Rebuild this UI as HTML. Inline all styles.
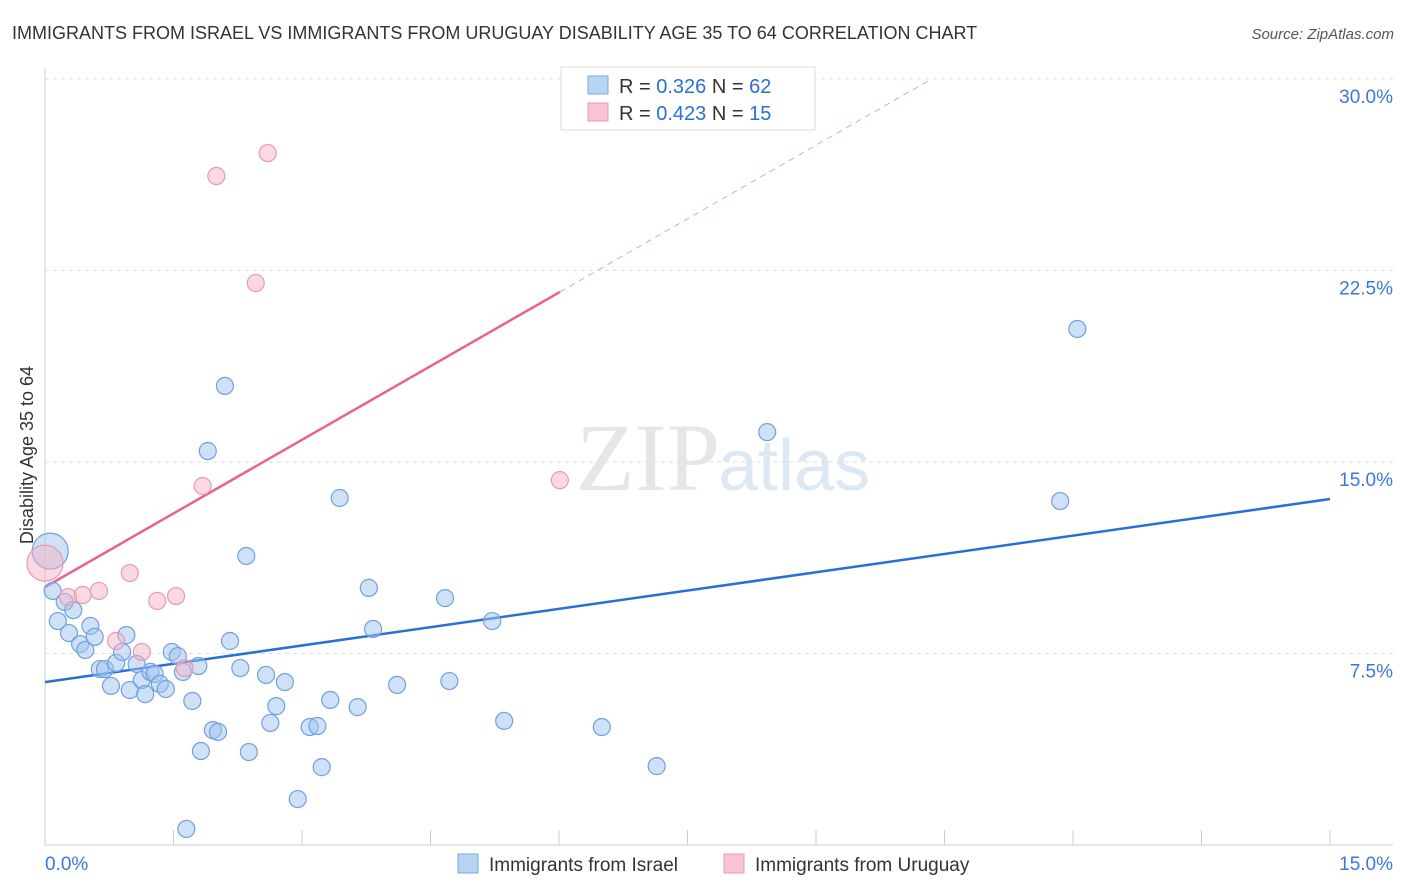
<!DOCTYPE html>
<html><head><meta charset="utf-8"><style>
body{margin:0;background:#fff;font-family:"Liberation Sans",sans-serif}
svg{display:block}
</style></head><body>
<svg id="c" width="1406" height="892">
<text x="12" y="39" font-size="18" fill="#333">IMMIGRANTS FROM ISRAEL VS IMMIGRANTS FROM URUGUAY DISABILITY AGE 35 TO 64 CORRELATION CHART</text>
<text x="1394" y="39" font-size="15" fill="#555" font-style="italic" text-anchor="end">Source: ZipAtlas.com</text>
<text x="720" y="490" font-size="96" fill="#e6e6e6" text-anchor="end" font-family="Liberation Serif">ZIP</text>
<text x="718" y="490" font-size="72" fill="#dde8f6">atlas</text>
<text transform="translate(33,455) rotate(-90)" font-size="18" fill="#333" text-anchor="middle">Disability Age 35 to 64</text>
<g id="grid"></g><g id="lines"></g><g id="pts"></g>
<g>
<rect x="561" y="67" width="254" height="63" fill="#fff" stroke="#ddd"/>
<rect x="588" y="76" width="20" height="18" fill="#b8d4f5" stroke="#7aa7e0"/>
<rect x="588" y="103" width="20" height="18" fill="#f8c4d4" stroke="#e89ab0"/>
<text x="619" y="93" font-size="20" fill="#333">R = <tspan fill="#2a6fd6">0.326</tspan>   N = <tspan fill="#2a6fd6">62</tspan></text>
<text x="619" y="120" font-size="20" fill="#333">R = <tspan fill="#2a6fd6">0.423</tspan>   N = <tspan fill="#2a6fd6">15</tspan></text>
</g>
<g>
<rect x="458" y="854" width="20" height="19" fill="#b8d4f5" stroke="#7aa7e0"/>
<text x="489" y="871" font-size="19" fill="#333">Immigrants from Israel</text>
<rect x="724" y="854" width="20" height="19" fill="#f8c4d4" stroke="#e89ab0"/>
<text x="755" y="871" font-size="19" fill="#333">Immigrants from Uruguay</text>
</g>
</svg>
<script>
const xTicks=[0,15];
const yTicks=[7.5,15,22.5,30];
const israelX=[0.06,0.09,0.15,0.23,0.28,0.33,0.41,0.47,0.53,0.58,0.64,0.70,0.77,0.83,0.90,0.95,0.99,1.07,1.13,1.17,1.23,1.28,1.34,1.41,1.48,1.55,1.61,1.65,1.72,1.79,1.82,1.90,1.96,2.02,2.10,2.16,2.28,2.35,2.38,2.58,2.63,2.70,2.80,2.95,3.09,3.18,3.23,3.33,3.44,3.65,3.78,3.83,4.11,4.67,4.72,5.22,5.36,6.50,7.14,8.43,11.85,12.05];
const israelY=[11.51,9.95,8.77,9.52,8.30,9.20,7.87,7.64,8.58,8.15,6.89,6.89,6.23,7.13,7.56,8.22,6.07,7.09,6.46,5.91,6.78,6.70,6.31,6.11,7.56,7.40,6.78,0.63,5.64,7.01,3.68,15.43,4.50,4.43,17.98,7.99,6.93,11.32,3.64,6.66,4.78,5.44,6.38,1.80,4.62,4.66,3.05,5.68,13.59,5.40,10.07,8.46,6.27,9.67,6.42,8.77,4.86,4.62,3.09,16.17,13.47,20.21];
const uruguayX=[0.0,0.27,0.44,0.63,0.83,0.99,1.13,1.31,1.53,1.63,1.84,2.00,2.46,2.60,6.01];
const uruguayY=[11.04,9.71,9.79,9.95,7.99,10.65,7.56,9.56,9.75,6.93,14.06,26.20,22.01,27.10,14.29];
const israelTrend=[6.38,13.55];
const uruguayTrend=[10.10,1.923];
const X=v=>45+v/15*1285, Y=v=>845-v/7.5*191.5;
const NS="http://www.w3.org/2000/svg";
function mk(t,a,p){const e=document.createElementNS(NS,t);for(const k in a)e.setAttribute(k,a[k]);p.appendChild(e);return e;}
const g=document.getElementById('grid');
let ax=mk('line',{x1:45,y1:68,x2:45,y2:845,stroke:'#ccc'},g);


let bx=mk('line',{x1:45,y1:845,x2:1393,y2:845,stroke:'#ccc'},g);


for(let i=1;i<=10;i++){let l=mk('line',{x1:X(i*1.5),y1:830,x2:X(i*1.5),y2:845,stroke:'#ccc'},g);

}
yTicks.forEach(v=>{let l=mk('line',{x1:45,y1:Y(v),x2:1393,y2:Y(v),stroke:'#ddd','stroke-dasharray':'4,4'},g);


let t=mk('text',{x:1393,y:Y(v)+24,'font-size':19,fill:'#3b78d8','text-anchor':'end'},g);t.textContent=v.toFixed(1)+'%';

});
xTicks.forEach((v,i)=>{let t=mk('text',{x:i?1393:45,y:870,'font-size':19,fill:'#3b78d8','text-anchor':i?'end':'start'},g);t.textContent=v.toFixed(1)+'%';

});
const p=document.getElementById('pts');
function dots(xs,ys,fill,stroke,name){xs.forEach((x,i)=>{const r=i===0&&x<0.1?18:8.5;let c=mk('circle',{cx:X(x),cy:Y(ys[i]),r:r,fill:fill,stroke:stroke,'stroke-width':1.2},p);

});}
dots(israelX,israelY,'rgba(160,196,240,0.5)','#6fa0e0','israel-point');
dots(uruguayX,uruguayY,'rgba(245,180,200,0.5)','#e89ab0','uruguay-point');
const L=document.getElementById('lines');
let b=mk('line',{x1:X(0),y1:Y(israelTrend[0]),x2:X(15),y2:Y(israelTrend[1]),stroke:'#2a6fd6','stroke-width':2.5},L);


let u=mk('line',{x1:X(0),y1:Y(uruguayTrend[0]),x2:X(6.01),y2:Y(uruguayTrend[0]+uruguayTrend[1]*6.01),stroke:'#e8638f','stroke-width':2.5},L);


let ud=mk('line',{x1:X(6.01),y1:Y(uruguayTrend[0]+uruguayTrend[1]*6.01),x2:X(10.33),y2:Y(uruguayTrend[0]+uruguayTrend[1]*10.33),stroke:'#f0a0b8','stroke-width':1,'stroke-dasharray':'6,5'},L);


</script>
</body></html>
